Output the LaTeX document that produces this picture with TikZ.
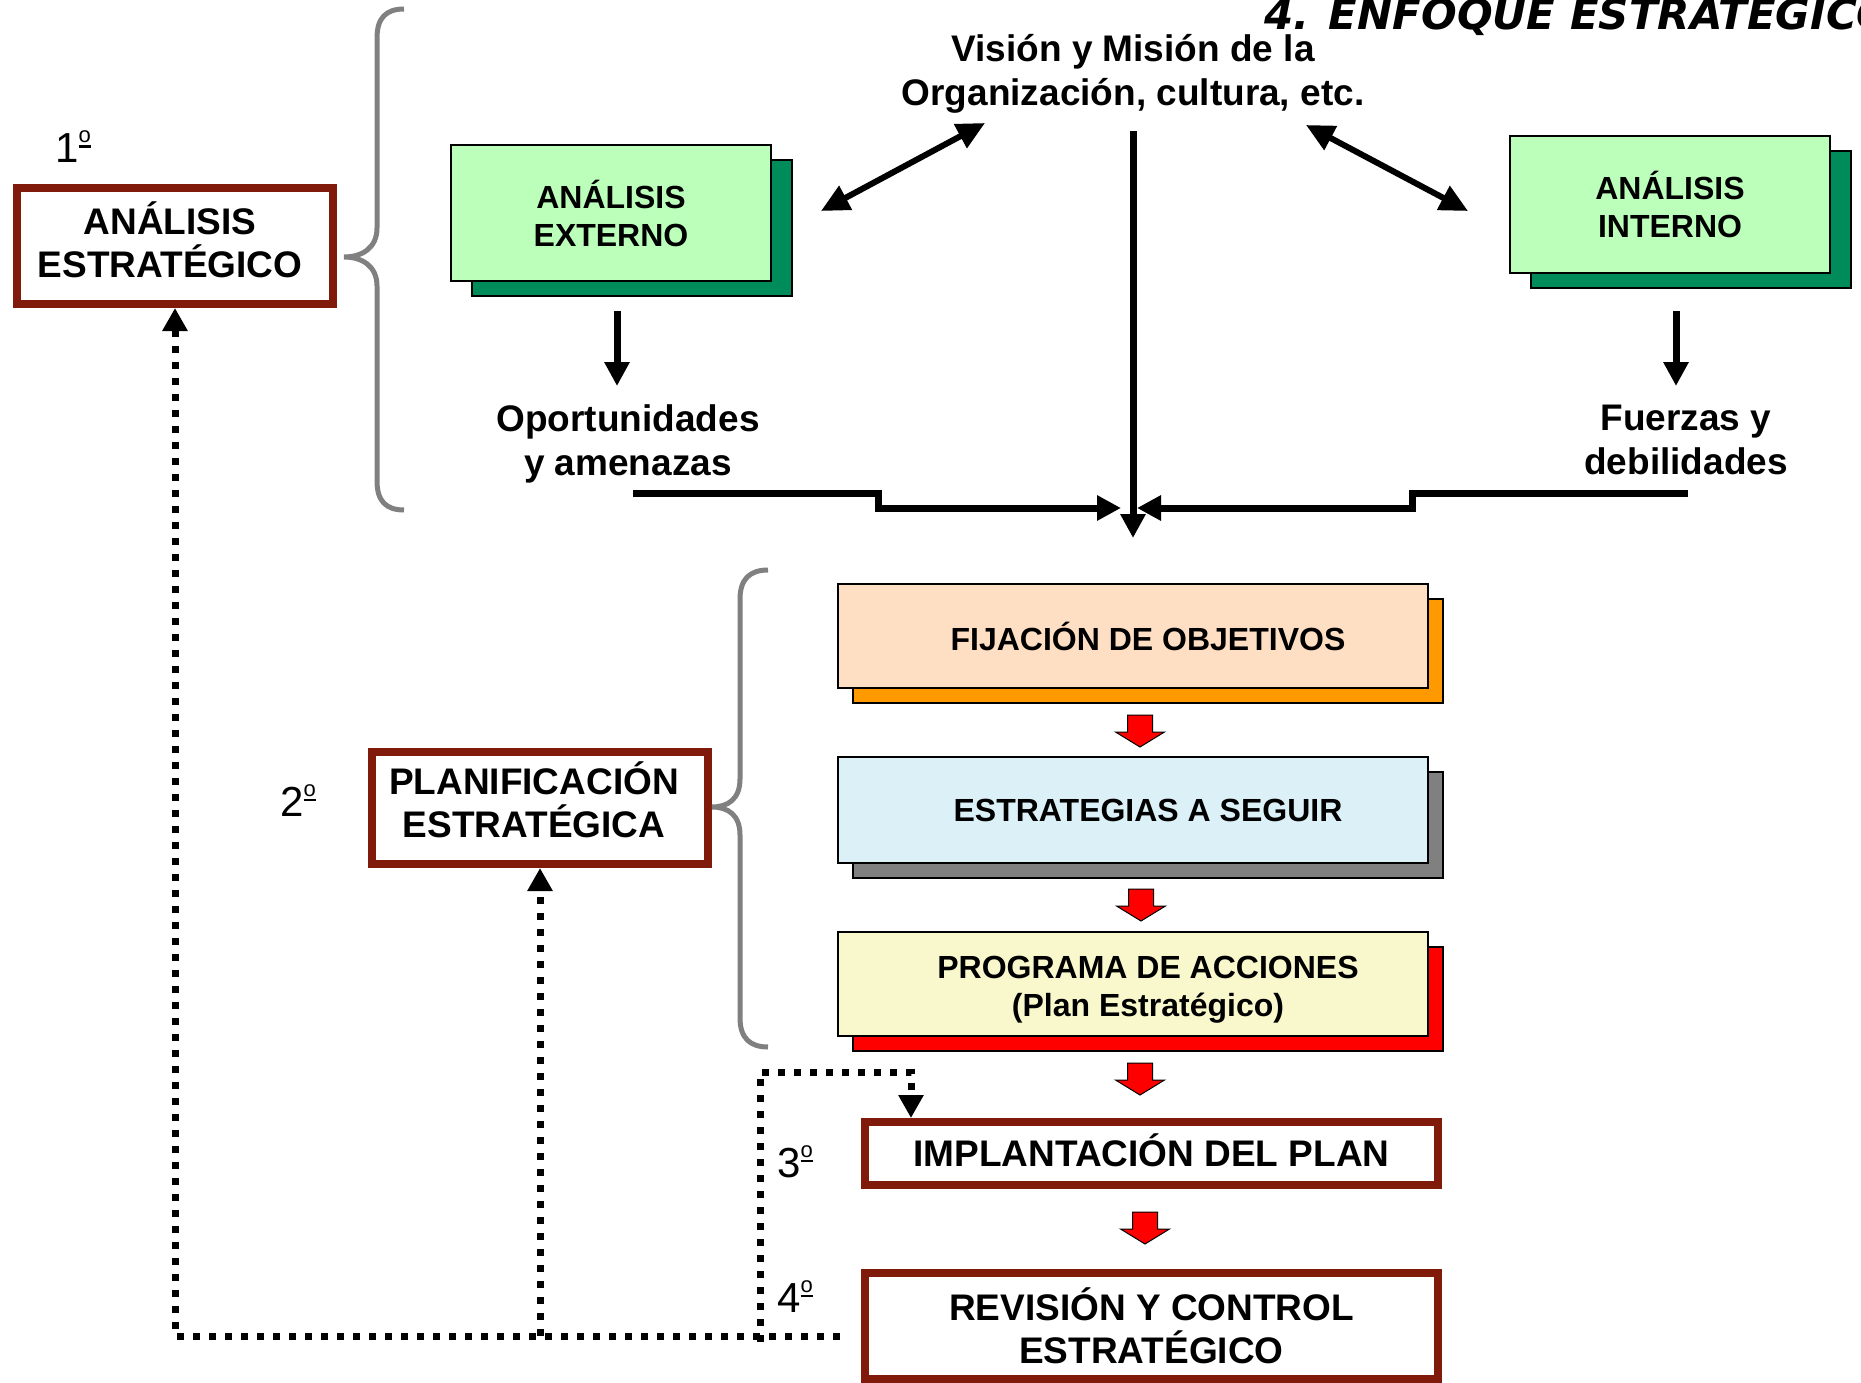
\documentclass[tikz,border=0pt]{standalone}
\usepackage{fontspec}
\setmainfont{Liberation Sans}
\newfontfamily\titlefont{DejaVu Sans}
\usetikzlibrary{arrows.meta}
\definecolor{boxred}{RGB}{128,26,10}
\definecolor{ltgreen}{RGB}{187,255,187}
\definecolor{dkgreen}{RGB}{0,140,90}
\definecolor{peach}{RGB}{255,223,196}
\definecolor{orangeS}{RGB}{255,153,0}
\definecolor{ltblue}{RGB}{220,240,248}
\definecolor{grayS}{RGB}{128,128,128}
\definecolor{ltyellow}{RGB}{248,248,204}
\definecolor{bracegray}{RGB}{128,128,128}
\newcommand{\ordmark}{\raisebox{15pt}{\rlap{\rule{12pt}{2.5pt}}\raisebox{5pt}{\fontsize{22}{22}\selectfont o}}}
\tikzset{
  sbox/.style={draw=black, line width=1.5pt, inner sep=0pt, align=center,
    font=\fontsize{32}{38}\selectfont\bfseries},
  rbox/.style={draw=boxred, line width=8pt, fill=white, inner sep=0pt},
  btext/.style={align=center, inner sep=0pt, font=\fontsize{37}{43.5}\selectfont\bfseries},
  stext/.style={align=center, inner sep=0pt, font=\fontsize{32}{38}\selectfont\bfseries},
  ordtext/.style={anchor=base west, inner sep=0pt, font=\fontsize{42}{50}\selectfont},
  blk/.style={line width=7pt, line join=miter, -{Triangle[length=24pt,width=24pt]}},
  dbl/.style={line width=6pt, {Triangle[length=28pt,width=26pt]}-{Triangle[length=28pt,width=26pt]}},
  dots/.style={line width=7pt, dash pattern=on 7pt off 9pt, -{Triangle[length=23pt,width=24pt]}},
  bracestyle/.style={draw=bracegray, line width=5pt},
  redarr/.style={fill=red, draw=black, line width=1pt, line join=miter},
  pics/redarrowpic/.style={code={
    \draw[redarr] (-12.5,0) -- (12.5,0) -- (12.5,17) -- (24.5,17) -- (0,32) -- (-24.5,17) -- (-12.5,17) -- cycle;}}
}
\begin{document}
\begin{tikzpicture}[x=1pt,y=-1pt]
\useasboundingbox (0,0) rectangle (1861,1383);

% title (cut off at the right edge, as in the reference)
\node[anchor=base west, inner sep=0pt, font=\titlefont\bfseries\itshape\fontsize{42}{50}\selectfont] (title) at (1264,30) {4. ENFOQUE ESTRATEGICO};

% ---------- 1st: analysis ----------
\node[ordtext] (o1) at (55,163) {1\ordmark};
\node[rbox, minimum width=316pt, minimum height=116pt] (ae) at (175,246) {};
\node[btext] (aeT) at (170,240) {ANÁLISIS\\ESTRATÉGICO};

\draw[bracestyle] (404,9) .. controls (386,9) and (377,18) .. (377,38) -- (377,228)
  .. controls (377,248) and (362,257) .. (344,257)
  .. controls (362,257) and (377,266) .. (377,286) -- (377,481)
  .. controls (377,501) and (386,510) .. (404,510);

\node[btext] (vis) at (1133,74) {Visión y Misión de la\\Organización, cultura, etc.};

\node[sbox, fill=dkgreen, minimum width=320pt, minimum height=136pt] (extS) at (632,228) {};
\node[sbox, fill=ltgreen, minimum width=320pt, minimum height=136pt] (ext) at (611,213) {ANÁLISIS\\EXTERNO};

\node[sbox, fill=dkgreen, minimum width=320pt, minimum height=137pt] (intS) at (1691,219.5) {};
\node[sbox, fill=ltgreen, minimum width=320pt, minimum height=137pt] (int) at (1670,204.5) {ANÁLISIS\\INTERNO};

\node[btext] (opo) at (628,444) {Oportunidades\\y amenazas};
\node[btext] (fue) at (1686,440) {Fuerzas y\\debilidades};

% black arrows
\coordinate (dblLa) at (821,211);
\coordinate (dblLb) at (985,123);
\coordinate (dblRa) at (1306,125);
\coordinate (dblRb) at (1468,211);
\draw[dbl] (dblLa) -- (dblLb);
\draw[dbl] (dblRa) -- (dblRb);

\coordinate (extA) at (617,311);
\coordinate (extB) at (617,386);
\coordinate (intA) at (1676,311);
\coordinate (intB) at (1676,386);
\draw[blk] (extA) -- (extB);
\draw[blk] (intA) -- (intB);

\coordinate (visA) at (1133,131);
\coordinate (merge) at (1133,538);
\draw[blk] (visA) -- (merge);

\coordinate (opoE) at (633,493);
\coordinate (mL) at (1121,508);
\draw[blk] (opoE) -- (878,493) -- (878,508) -- (mL);
\coordinate (fueE) at (1688,493);
\coordinate (mR) at (1137,508);
\draw[blk] (fueE) -- (1412,493) -- (1412,508) -- (mR);

% ---------- 2nd: planning ----------
\node[ordtext] (o2) at (280,816) {2\ordmark};
\node[rbox, minimum width=336pt, minimum height=112pt] (pe) at (540,808) {};
\node[btext] (peT) at (534,800) {PLANIFICACIÓN\\ESTRATÉGICA};

\draw[bracestyle] (768,570) .. controls (750,570) and (740,579) .. (740,599) -- (740,779)
  .. controls (740,799) and (728,807) .. (712,807)
  .. controls (728,807) and (740,815) .. (740,835) -- (740,1018)
  .. controls (740,1038) and (750,1047) .. (768,1047);

\node[sbox, fill=orangeS, minimum width=590pt, minimum height=104pt] (fijS) at (1148,651) {};
\node[sbox, fill=peach, minimum width=590pt, minimum height=104pt] (fij) at (1133,636) {};
\node[stext] (fijT) at (1148,636) {FIJACIÓN DE OBJETIVOS};

\node[sbox, fill=grayS, minimum width=590pt, minimum height=106pt] (estS) at (1148,825) {};
\node[sbox, fill=ltblue, minimum width=590pt, minimum height=106pt] (est) at (1133,810) {};
\node[stext] (estT) at (1148,810) {ESTRATEGIAS A SEGUIR};

\node[sbox, fill=red, minimum width=590pt, minimum height=104pt] (proS) at (1148,999) {};
\node[sbox, fill=ltyellow, minimum width=590pt, minimum height=104pt] (pro) at (1133,984) {};
\node[stext] (proT) at (1148,990) {PROGRAMA DE ACCIONES\\(Plan Estratégico)};

\pic at (1140,715) {redarrowpic};
\pic at (1141,889) {redarrowpic};
\pic at (1140,1063) {redarrowpic};
\pic at (1145,1212) {redarrowpic};

% ---------- 3rd & 4th ----------
\node[ordtext] (o3) at (777,1177) {3\ordmark};
\node[rbox, minimum width=573pt, minimum height=63pt] (imp) at (1151.5,1153.5) {};
\node[btext] (impT) at (1151.5,1150) {IMPLANTACIÓN DEL PLAN};
\node[ordtext] (o4) at (777,1312) {4\ordmark};
\node[rbox, minimum width=573pt, minimum height=106pt] (rev) at (1151.5,1326) {};
\node[btext] (revT) at (1151.5,1326) {REVISIÓN Y CONTROL\\ESTRATÉGICO};

% dotted feedback connectors
\coordinate (revL) at (840,1336);
\draw[dots] (revL) -| (ae.south);
\draw[dots] (pe.south |- revL) -- (pe.south);
\coordinate (c3a) at (760,1342);
\coordinate (c3b) at (911,1072);
\draw[dots] (c3a) |- (c3b) -- (c3b |- imp.north);
\end{tikzpicture}
\end{document}
